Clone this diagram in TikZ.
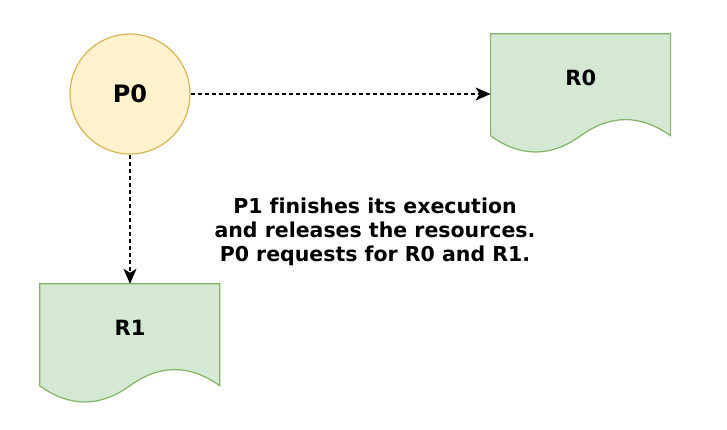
\documentclass[tikz,border=0pt]{standalone}
\usepackage{fontspec}
\setmainfont{DejaVu Sans}[Ligatures=NoCommon]
\usetikzlibrary{arrows.meta}
\usetikzlibrary{positioning}
\definecolor{procfill}{HTML}{FFF2CC}
\definecolor{procline}{HTML}{D6B656}
\definecolor{resfill}{HTML}{D5E8D4}
\definecolor{resline}{HTML}{82B366}
\tikzset{proc/.style = {circle, draw=procline, fill=procfill, line width=1.2pt, minimum size=120, inner sep=0, font=\bfseries\fontsize{24}{28}\selectfont}}
\tikzset{resbox/.style = {rectangle, minimum width=180, minimum height=120, inner sep=0}}
\tikzset{resdoc/.style = {draw=resline, fill=resfill, line width=1.2pt}}
\tikzset{reslabel/.style = {font=\bfseries\fontsize{21}{25}\selectfont}}
\tikzset{link/.style = {dash pattern=on 4pt off 3pt, line width=1.2pt, -{Stealth[length=15pt, width=13pt, inset=4pt]}}}
\newcommand{\resshape}[2]{%
  \begin{scope}[shift={(#1.north west)}]
    \draw[resdoc] (0, 0) -- (180, 0) -- (180, 102)
      .. controls (150, 80.4) and (120, 80.4) .. (90, 102)
      .. controls (60, 123.6) and (30, 123.6) .. (0, 102) -- cycle;
  \end{scope}
  \node[reslabel] at ([yshift=16pt]#1.center) {#2};}

\begin{document}
\begin{tikzpicture}[x=1pt, y=-1pt]
      \useasboundingbox (0, 0) rectangle (727, 429);
      \node[proc] (P0) at (130, 94) {P0};
      \node[resbox, right=300 of P0] (R0) {};
      \node[resbox] (R1) at (130, 344) {};
      \resshape{R0}{R0}
      \resshape{R1}{R1}
      \draw[link] (P0) -- (R0);
      \draw[link] (P0) -- (R1);
      \node[align=center, font=\bfseries\fontsize{20.5}{24}\selectfont] (note) at (375, 232)
        {P1 finishes its execution\\and releases the resources.\\P0 requests for R0 and R1.};
    \end{tikzpicture}
\end{document}
